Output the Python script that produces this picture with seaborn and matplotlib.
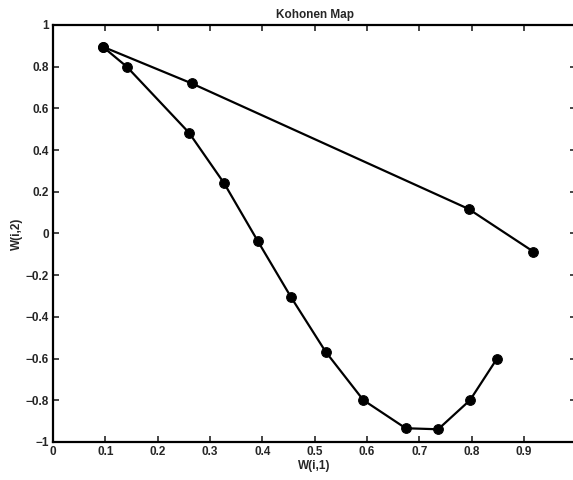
import matplotlib
matplotlib.use("Agg")
import matplotlib.pyplot as plt
import seaborn as sns
import pandas as pd

chain_x = [0.095, 0.141, 0.260, 0.327, 0.391, 0.455, 0.521, 0.593, 0.674, 0.736, 0.797, 0.848]
chain_y = [0.896, 0.800, 0.483, 0.241, -0.035, -0.306, -0.567, -0.799, -0.934, -0.939, -0.799, -0.602]
upper_x = [0.095, 0.265, 0.794, 0.918]
upper_y = [0.896, 0.720, 0.118, -0.087]

x_ticks = [0, 0.1, 0.2, 0.3, 0.4, 0.5, 0.6, 0.7, 0.8, 0.9, 1.0]
x_labels = ["0", "0.1", "0.2", "0.3", "0.4", "0.5", "0.6", "0.7", "0.8", "0.9", ""]
y_ticks = [-1, -0.8, -0.6, -0.4, -0.2, 0, 0.2, 0.4, 0.6, 0.8, 1]
y_labels = ["\u22121", "\u22120.8", "\u22120.6", "\u22120.4", "\u22120.2", "0", "0.2", "0.4", "0.6", "0.8", "1"]

sns.set_style("ticks")
plt.rcParams["font.family"] = ["Liberation Sans", "DejaVu Sans"]
plt.rcParams["font.weight"] = "bold"

df1 = pd.DataFrame({"x": chain_x, "y": chain_y})
df2 = pd.DataFrame({"x": upper_x, "y": upper_y})

fig = plt.figure(figsize=(5.73, 4.8), dpi=100)
ax = fig.add_axes([53 / 573, 38 / 480, 523.3 / 573, 417 / 480])

for d in (df1, df2):
    sns.lineplot(data=d, x="x", y="y", sort=False, estimator=None, ax=ax,
                 color="black", linewidth=1.6, marker="o", markersize=7,
                 markeredgecolor="black", markerfacecolor="black")

ax.set_xlim(0, 1)
ax.set_ylim(-1, 1)
ax.set_xticks(x_ticks)
ax.set_xticklabels(x_labels, fontsize=8.5, fontweight="bold")
ax.set_yticks(y_ticks)
ax.set_yticklabels(y_labels, fontsize=8.5, fontweight="bold")
ax.tick_params(direction="in", top=True, right=True, length=4, width=1.2, pad=3)
for s in ax.spines.values():
    s.set_linewidth(1.6)
    s.set_color("black")
ax.set_xlabel("W(i,1)", fontsize=8.5, fontweight="bold", labelpad=1)
ax.set_ylabel("W(i,2)", fontsize=8.5, fontweight="bold", labelpad=2)
ax.set_title("Kohonen Map", fontsize=8.5, fontweight="bold", pad=5)

fig.savefig("out.png", dpi=100)
